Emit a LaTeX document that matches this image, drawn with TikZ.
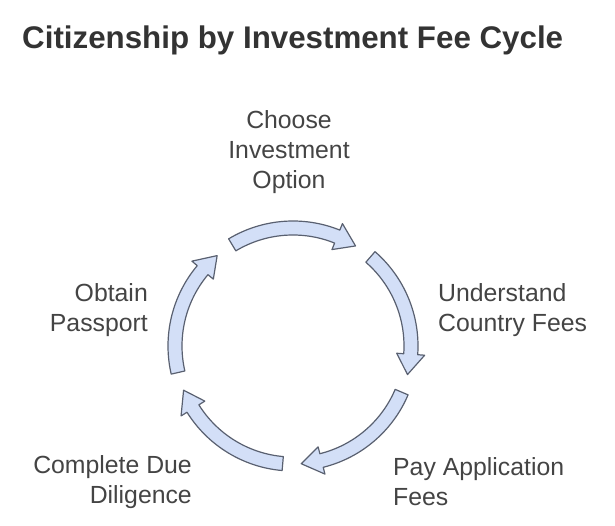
\documentclass[tikz,border=0pt]{standalone}
\usepackage{fontspec}
\setmainfont{Liberation Sans}
\definecolor{txt}{HTML}{444444}
\definecolor{ttl}{HTML}{333333}
\definecolor{arrfill}{HTML}{D3DFF7}
\definecolor{arrline}{HTML}{596070}
\begin{document}
\begin{tikzpicture}[x=1pt,y=-1pt,
  lbl/.style={text=txt,inner sep=0pt,font=\fontsize{24.8}{30}\selectfont},
  cyc/.style={fill=arrfill,draw=arrline,line width=1.2pt,line join=round}]
\useasboundingbox (0,0) rectangle (615,526);
\node[anchor=west,text=ttl,inner sep=0pt,font=\fontsize{31.3}{36}\bfseries\selectfont] (title) at (22,40) {Citizenship by Investment Fee Cycle};
\node[lbl,align=center] (choose) at (289,152) {Choose\\Investment\\Option};
\node[lbl,align=left,anchor=west] (understand) at (438,310) {Understand\\Country Fees};
\node[lbl,align=left,anchor=west] (pay) at (393,482) {Pay Application\\Fees};
\node[lbl,align=right,anchor=east] (complete) at (192,482) {Complete Due\\Diligence};
\node[lbl,align=right,anchor=east] (obtain) at (148,310) {Obtain\\Passport};
\coordinate (ctr) at (293,346);
\begin{scope}[shift={(ctr)},y=1pt]
\foreach \c in {90,18,-54,-126,-198}{
  \pgfmathsetmacro{\a}{\c+31}
  \pgfmathsetmacro{\b}{\c-32}
  \pgfmathsetmacro{\d}{\b+10}
  \draw[cyc] (\a:125) arc[start angle=\a,end angle=\d,radius=125]
    -- (\d:132) -- (\b:118) -- (\d:104) -- (\d:111)
    arc[start angle=\d,end angle=\a,radius=111] -- cycle;
}
\end{scope}
\end{tikzpicture}
\end{document}
